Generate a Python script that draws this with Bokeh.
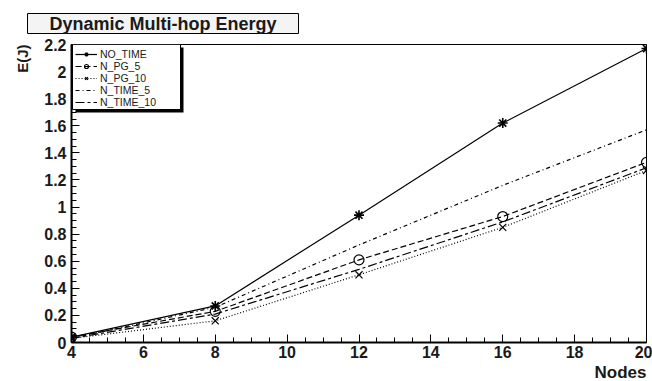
from bokeh.plotting import figure
from bokeh.models import BoxAnnotation, Legend, LegendItem, Range1d, FixedTicker, Title
from bokeh.embed import file_html
from bokeh.resources import INLINE
import numpy as np

nodes = [4, 8, 12, 16, 20]
no_time = [0.04, 0.27, 0.94, 1.62, 2.17]
n_pg_5 = [0.04, 0.23, 0.61, 0.93, 1.33]
n_pg_10 = [0.03, 0.16, 0.50, 0.85, 1.27]
n_time_5 = [0.03, 0.26, 0.72, 1.16, 1.57]
n_time_10 = [0.03, 0.21, 0.54, 0.89, 1.29]

x_ticks = [4, 6, 8, 10, 12, 14, 16, 18, 20]
y_ticks = [0, 0.2, 0.4, 0.6, 0.8, 1, 1.2, 1.4, 1.6, 1.8, 2, 2.2]
y_tick_labels = ["0", "0.2", "0.4", "0.6", "0.8", "1", "1.2", "1.4", "1.6", "1.8", "2", "2.2"]

title_text = "Dynamic Multi-hop Energy"
x_title = "Nodes"
y_title = "E(J)"

FONT = "Liberation Sans"
W, H = 652, 381
TXT = "#1a1a1a"

p = figure(width=W, height=H, output_backend="svg", toolbar_location=None,
           x_range=Range1d(4, 20), y_range=Range1d(0, 2.2),
           min_border_left=71, min_border_right=6, min_border_top=44, min_border_bottom=37)
p.xgrid.visible = False
p.ygrid.visible = False
p.outline_line_color = "black"
p.outline_line_width = 1
p.background_fill_color = "white"
p.border_fill_color = "white"

# main title (boxed)
p.title = Title(text=title_text, align="left", offset=-44, standoff=22,
                text_font=FONT, text_font_style="bold", text_font_size="18px", text_color=TXT,
                background_fill_color="#f4f4f4", border_line_color="black", border_line_width=1,
                padding=dict(left=22, right=22, top=0, bottom=0))

minor_x = [float(v) for v in np.arange(4, 20.01, 0.5)]
minor_y = [round(float(v), 2) for v in np.arange(0, 2.201, 0.05)]
p.xaxis.ticker = FixedTicker(ticks=x_ticks, minor_ticks=minor_x)
p.yaxis.ticker = FixedTicker(ticks=y_ticks, minor_ticks=minor_y)
p.yaxis.major_label_overrides = {t: l for t, l in zip(y_ticks, y_tick_labels)}
p.xaxis.major_label_overrides = {t: str(t) for t in x_ticks}

for ax in (p.xaxis[0], p.yaxis[0]):
    ax.axis_line_width = 2
    ax.axis_line_color = "black"
    ax.major_tick_in = 8
    ax.major_tick_out = 0
    ax.minor_tick_in = 5
    ax.minor_tick_out = 0
    ax.major_tick_line_color = "black"
    ax.minor_tick_line_color = "black"
    ax.major_label_text_font = FONT
    ax.major_label_text_font_style = "bold"
    ax.major_label_text_font_size = "16px"
    ax.major_label_text_color = TXT
p.yaxis.major_label_standoff = 5
p.xaxis.major_label_standoff = 3

# axis titles placed at the ends of the axes
p.add_layout(Title(text=x_title, align="right", standoff=0,
                   text_font=FONT, text_font_style="bold", text_font_size="17px", text_color=TXT), "below")
p.add_layout(Title(text=y_title, align="right", standoff=21,
                   text_font=FONT, text_font_style="bold", text_font_size="15px", text_color=TXT), "left")

r1 = p.line(nodes, no_time, line_color="black", line_width=1.2)
m1 = p.scatter(nodes, no_time, marker="asterisk", size=10, line_color="black", line_width=1.6)
r2 = p.line(nodes, n_pg_5, line_color="black", line_width=1.2, line_dash="6 3")
m2 = p.scatter(nodes, n_pg_5, marker="circle", size=10, line_color="black", fill_color=None, line_width=1.2)
r3 = p.line(nodes, n_pg_10, line_color="black", line_width=1.2, line_dash="1 2")
m3 = p.scatter(nodes, n_pg_10, marker="x", size=10, line_color="black", line_width=1.2)
r4 = p.line(nodes, n_time_5, line_color="black", line_width=1.2, line_dash="4 3 1 3")
r5 = p.line(nodes, n_time_10, line_color="black", line_width=1.2, line_dash="9 3 3 3")

def sbox(l, r, t, b, fill, line):
    return BoxAnnotation(left=l, right=r, top=t, bottom=b,
                         left_units="screen", right_units="screen",
                         top_units="screen", bottom_units="screen",
                         fill_color=fill if fill else "white", fill_alpha=1 if fill else 0,
                         line_color=line if line else "black", line_width=1, line_alpha=1 if line else 0,
                         level="annotation")

# legend box with shadow (frame-relative screen coords)
p.add_layout(sbox(4, 112, 295, 230, "black", None))
p.add_layout(sbox(1, 109, 298, 233, "white", "black"))

legend = Legend(items=[
    LegendItem(label="NO_TIME", renderers=[r1, m1]),
    LegendItem(label="N_PG_5", renderers=[r2, m2]),
    LegendItem(label="N_PG_10", renderers=[r3, m3]),
    LegendItem(label="N_TIME_5", renderers=[r4]),
    LegendItem(label="N_TIME_10", renderers=[r5]),
], location="top_left")
legend.label_text_font = FONT
legend.label_text_font_size = "10.5px"
legend.label_text_color = TXT
legend.label_height = 10
legend.glyph_height = 10
legend.glyph_width = 22
legend.spacing = 0
legend.padding = 1
legend.margin = 3
legend.label_standoff = 3
legend.border_line_alpha = 0
legend.background_fill_alpha = 0
p.add_layout(legend)

open("out.html", "w").write(file_html(p, INLINE))
